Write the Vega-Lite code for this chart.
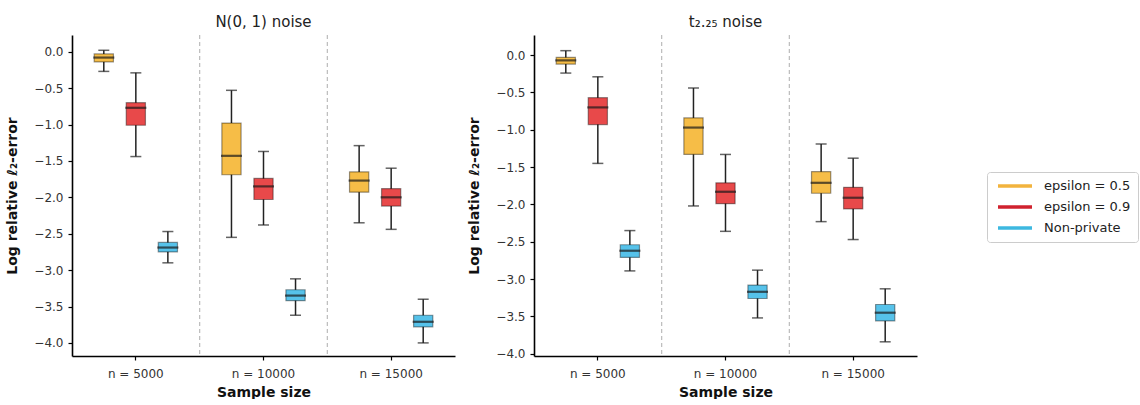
{
  "$schema": "https://vega.github.io/schema/vega-lite/v6.json",
  "padding": {"left": 5, "top": 15, "right": 0, "bottom": 0},
  "config": {
    "view": {"stroke": null},
    "font": "DejaVu Sans",
    "axis": {"domainColor": "#000", "domainWidth": 1.6, "tickColor": "#000", "tickSize": 4, "tickWidth": 1.2, "labelColor": "#333", "labelFontSize": 12, "titleFontSize": 14, "titleFontWeight": "bold", "titleColor": "#111", "grid": false},
    "axisY": {"labelPadding": 5},
    "axisX": {"labelPadding": 8},
    "title": {"fontSize": 15, "fontWeight": "normal", "color": "#222", "offset": 4},
    "legend": {"strokeColor": "#cccccc", "cornerRadius": 3, "padding": 7, "fillColor": "white"}
  },
  "datasets": {
    "boxes": [
      {"panel": "N", "n": "n = 5000", "g": "epsilon = 0.5", "lo": -0.27, "q1": -0.14, "med": -0.08, "q3": -0.03, "hi": 0.02},
      {"panel": "N", "n": "n = 5000", "g": "epsilon = 0.9", "lo": -1.44, "q1": -1.01, "med": -0.77, "q3": -0.70, "hi": -0.29},
      {"panel": "N", "n": "n = 5000", "g": "Non-private", "lo": -2.90, "q1": -2.75, "med": -2.69, "q3": -2.62, "hi": -2.47},
      {"panel": "N", "n": "n = 10000", "g": "epsilon = 0.5", "lo": -2.55, "q1": -1.69, "med": -1.43, "q3": -0.98, "hi": -0.53},
      {"panel": "N", "n": "n = 10000", "g": "epsilon = 0.9", "lo": -2.38, "q1": -2.03, "med": -1.85, "q3": -1.74, "hi": -1.37},
      {"panel": "N", "n": "n = 10000", "g": "Non-private", "lo": -3.62, "q1": -3.42, "med": -3.35, "q3": -3.27, "hi": -3.12},
      {"panel": "N", "n": "n = 15000", "g": "epsilon = 0.5", "lo": -2.35, "q1": -1.93, "med": -1.77, "q3": -1.65, "hi": -1.29},
      {"panel": "N", "n": "n = 15000", "g": "epsilon = 0.9", "lo": -2.44, "q1": -2.12, "med": -2.00, "q3": -1.88, "hi": -1.60},
      {"panel": "N", "n": "n = 15000", "g": "Non-private", "lo": -4.00, "q1": -3.78, "med": -3.71, "q3": -3.62, "hi": -3.40},
      {"panel": "T", "n": "n = 5000", "g": "epsilon = 0.5", "lo": -0.24, "q1": -0.12, "med": -0.07, "q3": -0.03, "hi": 0.06},
      {"panel": "T", "n": "n = 5000", "g": "epsilon = 0.9", "lo": -1.45, "q1": -0.93, "med": -0.70, "q3": -0.57, "hi": -0.29},
      {"panel": "T", "n": "n = 5000", "g": "Non-private", "lo": -2.89, "q1": -2.71, "med": -2.62, "q3": -2.54, "hi": -2.35},
      {"panel": "T", "n": "n = 10000", "g": "epsilon = 0.5", "lo": -2.02, "q1": -1.33, "med": -0.97, "q3": -0.84, "hi": -0.44},
      {"panel": "T", "n": "n = 10000", "g": "epsilon = 0.9", "lo": -2.36, "q1": -1.99, "med": -1.83, "q3": -1.71, "hi": -1.33},
      {"panel": "T", "n": "n = 10000", "g": "Non-private", "lo": -3.52, "q1": -3.26, "med": -3.17, "q3": -3.08, "hi": -2.88},
      {"panel": "T", "n": "n = 15000", "g": "epsilon = 0.5", "lo": -2.23, "q1": -1.85, "med": -1.71, "q3": -1.56, "hi": -1.19},
      {"panel": "T", "n": "n = 15000", "g": "epsilon = 0.9", "lo": -2.47, "q1": -2.06, "med": -1.91, "q3": -1.77, "hi": -1.38},
      {"panel": "T", "n": "n = 15000", "g": "Non-private", "lo": -3.84, "q1": -3.56, "med": -3.45, "q3": -3.34, "hi": -3.13}
    ],
    "seps": [{"n": "n = 10000"}, {"n": "n = 15000"}]
  },
  "spacing": 12,
  "hconcat": [
    {
      "width": 383, "height": 321,
      "title": {"text": "N(0, 1) noise"},
      "layer": [
        {
          "data": {"name": "seps"},
          "mark": {"type": "rule", "color": "#bbbbbb", "strokeDash": [4, 3], "strokeWidth": 1.2},
          "encoding": {
            "x": {"field": "n", "type": "nominal", "bandPosition": 0, "scale": {"domain": ["n = 5000", "n = 10000", "n = 15000"], "paddingInner": 0, "paddingOuter": -0.127}, "title": "Sample size", "axis": {"labelAngle": 0, "titlePadding": 6}}
          }
        },
        {
          "data": {"name": "boxes"},
          "transform": [{"filter": "datum.panel === 'N'"}],
          "encoding": {
            "x": {"field": "n", "type": "nominal", "scale": {"domain": ["n = 5000", "n = 10000", "n = 15000"], "paddingInner": 0, "paddingOuter": -0.127}, "title": "Sample size", "axis": {"labelAngle": 0, "titlePadding": 6}},
            "xOffset": {"field": "g", "type": "nominal", "scale": {"domain": ["epsilon = 0.5", "epsilon = 0.9", "Non-private"], "paddingInner": 0.4, "paddingOuter": 0.693}}
          },
          "layer": [
            {"mark": {"type": "rule", "color": "#222", "strokeWidth": 1.5},
             "encoding": {"y": {"field": "lo", "type": "quantitative", "scale": {"domain": [-4.18, 0.23], "nice": false, "zero": false}, "title": "Log relative ℓ₂-error", "axis": {"values": [-4, -3.5, -3, -2.5, -2, -1.5, -1, -0.5, 0], "format": ".1f", "titlePadding": 14}}, "y2": {"field": "hi"}}},
            {"mark": {"type": "bar", "strokeWidth": 1.2, "stroke": "#000", "strokeOpacity": 0.4},
             "encoding": {"y": {"field": "q1", "type": "quantitative"}, "y2": {"field": "q3"},
               "fill": {"field": "g", "type": "nominal", "scale": {"domain": ["Non-private", "epsilon = 0.5", "epsilon = 0.9"], "range": ["#56C2EA", "#F6BD47", "#E8494A"]}, "legend": null}}},
            {"mark": {"type": "tick", "color": "#1a1a1a", "thickness": 2.2, "size": 21},
             "encoding": {"y": {"field": "med", "type": "quantitative"}}},
            {"mark": {"type": "tick", "color": "#222", "thickness": 1.5, "size": 11},
             "encoding": {"y": {"field": "lo", "type": "quantitative"}}},
            {"mark": {"type": "tick", "color": "#222", "thickness": 1.5, "size": 11},
             "encoding": {"y": {"field": "hi", "type": "quantitative"}}},
            {"mark": {"type": "rule", "strokeWidth": 3.5},
             "encoding": {"y": {"field": "med", "type": "quantitative"}, "y2": {"field": "med"},
               "stroke": {"field": "g", "type": "nominal", "scale": {"domain": ["epsilon = 0.5", "epsilon = 0.9", "Non-private"], "range": ["#F2B33D", "#D0222E", "#3DB8E0"]},
                 "legend": {"title": null, "orient": "none", "legendX": 915, "legendY": 137, "symbolType": "M-3.4,0H3.4", "symbolSize": 100, "symbolStrokeWidth": 3.5, "symbolOffset": 14, "labelOffset": 22, "labelFontSize": 13, "labelColor": "#222", "rowPadding": 7}}}}
          ]
        }
      ]
    },
    {
      "width": 383, "height": 321,
      "title": {"text": "t₂.₂₅ noise"},
      "layer": [
        {
          "data": {"name": "seps"},
          "mark": {"type": "rule", "color": "#bbbbbb", "strokeDash": [4, 3], "strokeWidth": 1.2},
          "encoding": {
            "x": {"field": "n", "type": "nominal", "bandPosition": 0, "scale": {"domain": ["n = 5000", "n = 10000", "n = 15000"], "paddingInner": 0, "paddingOuter": -0.127}, "title": "Sample size", "axis": {"labelAngle": 0, "titlePadding": 6}}
          }
        },
        {
          "data": {"name": "boxes"},
          "transform": [{"filter": "datum.panel === 'T'"}],
          "encoding": {
            "x": {"field": "n", "type": "nominal", "scale": {"domain": ["n = 5000", "n = 10000", "n = 15000"], "paddingInner": 0, "paddingOuter": -0.127}, "title": "Sample size", "axis": {"labelAngle": 0, "titlePadding": 6}},
            "xOffset": {"field": "g", "type": "nominal", "scale": {"domain": ["epsilon = 0.5", "epsilon = 0.9", "Non-private"], "paddingInner": 0.4, "paddingOuter": 0.693}}
          },
          "layer": [
            {"mark": {"type": "rule", "color": "#222", "strokeWidth": 1.5},
             "encoding": {"y": {"field": "lo", "type": "quantitative", "scale": {"domain": [-4.03, 0.27], "nice": false, "zero": false}, "title": "Log relative ℓ₂-error", "axis": {"values": [-4, -3.5, -3, -2.5, -2, -1.5, -1, -0.5, 0], "format": ".1f", "titlePadding": 14}}, "y2": {"field": "hi"}}},
            {"mark": {"type": "bar", "strokeWidth": 1.2, "stroke": "#000", "strokeOpacity": 0.4},
             "encoding": {"y": {"field": "q1", "type": "quantitative"}, "y2": {"field": "q3"},
               "fill": {"field": "g", "type": "nominal", "scale": {"domain": ["Non-private", "epsilon = 0.5", "epsilon = 0.9"], "range": ["#56C2EA", "#F6BD47", "#E8494A"]}, "legend": null}}},
            {"mark": {"type": "tick", "color": "#1a1a1a", "thickness": 2.2, "size": 21},
             "encoding": {"y": {"field": "med", "type": "quantitative"}}},
            {"mark": {"type": "tick", "color": "#222", "thickness": 1.5, "size": 11},
             "encoding": {"y": {"field": "lo", "type": "quantitative"}}},
            {"mark": {"type": "tick", "color": "#222", "thickness": 1.5, "size": 11},
             "encoding": {"y": {"field": "hi", "type": "quantitative"}}},
            {"mark": {"type": "rule", "strokeWidth": 3.5},
             "encoding": {"y": {"field": "med", "type": "quantitative"}, "y2": {"field": "med"},
               "stroke": {"field": "g", "type": "nominal", "scale": {"domain": ["epsilon = 0.5", "epsilon = 0.9", "Non-private"], "range": ["#F2B33D", "#D0222E", "#3DB8E0"]},
                 "legend": {"title": null, "orient": "none", "legendX": 915, "legendY": 137, "symbolType": "M-3.4,0H3.4", "symbolSize": 100, "symbolStrokeWidth": 3.5, "symbolOffset": 14, "labelOffset": 22, "labelFontSize": 13, "labelColor": "#222", "rowPadding": 7}}}}
          ]
        }
      ]
    }
  ]
}
